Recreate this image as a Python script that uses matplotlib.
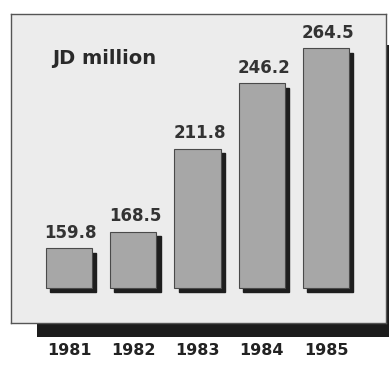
import matplotlib.pyplot as plt
from matplotlib.patches import Rectangle

years = ["1981", "1982", "1983", "1984", "1985"]
values = [159.8, 168.5, 211.8, 246.2, 264.5]
base = 139.0
unit_label = "JD million"

W, H = 389, 371
fig = plt.figure(figsize=(W / 100, H / 100), dpi=100)
fig.patch.set_facecolor("white")

# drop shadow behind the panel
fig.add_artist(Rectangle((37 / W, (H - 337) / H), (395 - 37) / W, (337 - 45) / H,
                         transform=fig.transFigure, facecolor="#1c1c1c",
                         edgecolor="none", zorder=-1))

ax = fig.add_axes([11 / W, (H - 323) / H, (386 - 11) / W, (323 - 14) / H])
ax.set_facecolor("#ececec")
for s in ax.spines.values():
    s.set_color("#555555")
    s.set_linewidth(1.0)
ax.set_xticks([])
ax.set_yticks([])
ax.set_xlim(-0.902, 4.933)
ax.set_ylim(120.7, 282.5)

x = list(range(len(years)))
heights = [v - base for v in values]

# dark side/bottom of each bar
ax.bar([i + 0.065 for i in x], heights, bottom=base - 2.2, width=0.72,
       color="#1e1e1e", edgecolor="#1e1e1e", zorder=2)
ax.bar(x, heights, bottom=base, width=0.72, color="#a7a7a7",
       edgecolor="#4a4a4a", linewidth=0.8, zorder=3)

for i, v in zip(x, values):
    ax.text(i + 0.03, v + 3.5, f"{v:.1f}", ha="center", va="bottom",
            fontsize=12, fontweight="bold", color="#333333", zorder=4)

for i, y in zip(x, years):
    ax.text(i, -0.088, y, transform=ax.get_xaxis_transform(), ha="center",
            va="center", fontsize=11.5, fontweight="bold", color="#222222",
            clip_on=False)

ax.text(0.111, 0.857, unit_label, transform=ax.transAxes, ha="left",
        va="center", fontsize=14, fontweight="bold", color="#2a2a2a")

fig.savefig("out.png", dpi=100)
